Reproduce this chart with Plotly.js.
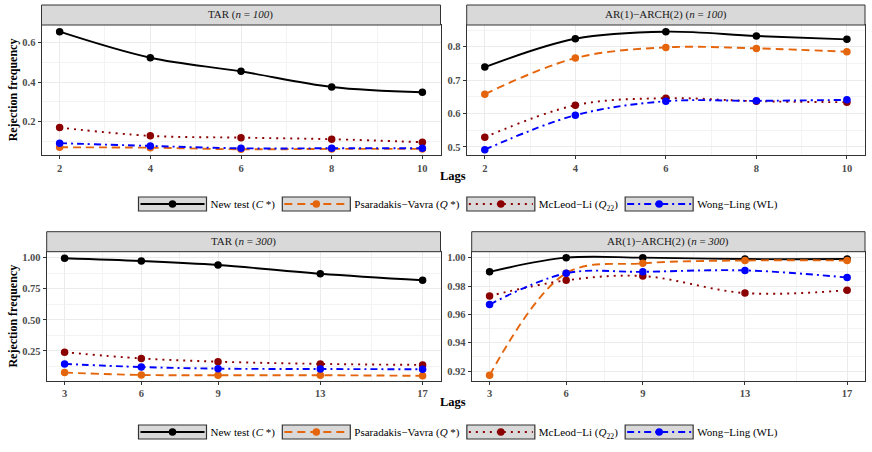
<!DOCTYPE html>
<html>
<head>
<meta charset="utf-8">
<script src="https://cdn.plot.ly/plotly-3.0.1.min.js"></script>
<style>
  html, body { margin: 0; padding: 0; background: #ffffff; }
  #chart { width: 872px; height: 452px; }
</style>
</head>
<body>
<div id="chart"></div>
<script>
// ---------------- data ----------------
const lagsN100 = [2, 4, 6, 8, 10];
const lagsN300 = [3, 6, 9, 13, 17];

const seriesNames = [
  'New test (<i>C</i> *)',
  'Psaradakis\u2212Vavra (<i>Q</i> *)',
  'McLeod\u2212Li (<i>Q</i><sub>22</sub>)',
  'Wong\u2212Ling (WL)'
];

const panelTitles = [
  'TAR (<i>n</i> = <i>100</i>)',
  'AR(1)\u2212ARCH(2) (<i>n</i> = <i>100</i>)',
  'TAR (<i>n</i> = <i>300</i>)',
  'AR(1)\u2212ARCH(2) (<i>n</i> = <i>300</i>)'
];

// TAR, n = 100
const tar100NewTest = [0.656, 0.524, 0.455, 0.376, 0.349];
const tar100PV      = [0.070, 0.068, 0.060, 0.062, 0.062];
const tar100ML      = [0.170, 0.128, 0.119, 0.111, 0.096];
const tar100WL      = [0.091, 0.077, 0.065, 0.065, 0.065];
// AR(1)-ARCH(2), n = 100
const arch100NewTest = [0.739, 0.824, 0.845, 0.832, 0.822];
const arch100PV      = [0.658, 0.766, 0.798, 0.795, 0.785];
const arch100ML      = [0.529, 0.625, 0.646, 0.637, 0.634];
const arch100WL      = [0.492, 0.595, 0.637, 0.638, 0.641];
// TAR, n = 300
const tar300NewTest = [0.995, 0.973, 0.941, 0.871, 0.818];
const tar300PV      = [0.076, 0.057, 0.055, 0.055, 0.050];
const tar300ML      = [0.240, 0.190, 0.164, 0.146, 0.138];
const tar300WL      = [0.146, 0.121, 0.108, 0.105, 0.103];
// AR(1)-ARCH(2), n = 300
const arch300NewTest = [0.990, 1.000, 1.000, 0.999, 0.999];
const arch300PV      = [0.917, 0.989, 0.996, 0.998, 0.998];
const arch300ML      = [0.973, 0.984, 0.987, 0.975, 0.977];
const arch300WL      = [0.967, 0.989, 0.990, 0.991, 0.986];

// tick labels
const xTicksTop = [2, 4, 6, 8, 10];
const xMinorTop = [3, 5, 7, 9];
const xTicksBottom = [3, 6, 9, 13, 17];
const xMinorBottom = [4.5, 7.5, 11, 15];
const yTicksTL = [0.2, 0.4, 0.6];
const yMinorTL = [0.1, 0.3, 0.5];
const yTicksTR = [0.5, 0.6, 0.7, 0.8];
const yMinorTR = [0.55, 0.65, 0.75, 0.85];
const yTicksBL = [0.25, 0.50, 0.75, 1.00];
const yMinorBL = [0.125, 0.375, 0.625, 0.875];
const yTicksBR = [0.92, 0.94, 0.96, 0.98, 1.00];
const yMinorBR = [0.93, 0.95, 0.97, 0.99];

// ---------------- layout helpers ----------------
const W = 872, H = 452;
const fx = px => px / W;
const fy = py => 1 - py / H;
const SERIF = 'Liberation Serif, Times New Roman, serif';

const styles = [
  { color: '#000000', dash: 'solid' },
  { color: '#E4650C', dash: '8px,5px' },
  { color: '#8B0000', dash: '2px,5px' },
  { color: '#0000FF', dash: '7px,4px,2px,4px' }
];

// panel pixel boxes [left, right, top(plot), bottom(plot)]
const panels = [
  { box: [41.5, 440.5, 25, 155],   x: lagsN100, ys: [tar100NewTest, tar100PV, tar100ML, tar100WL],
    xr: [1.6, 10.4], yr: [0.031, 0.690], xt: xTicksTop, xm: xMinorTop, yt: yTicksTL, ym: yMinorTL, yfmt: '', legend: 'legend', show: true },
  { box: [466.7, 865, 25, 155],    x: lagsN100, ys: [arch100NewTest, arch100PV, arch100ML, arch100WL],
    xr: [1.6, 10.4], yr: [0.476, 0.865], xt: xTicksTop, xm: xMinorTop, yt: yTicksTR, ym: yMinorTR, yfmt: '', legend: 'legend', show: false },
  { box: [46.7, 440.5, 251.7, 380.7], x: lagsN300, ys: [tar300NewTest, tar300PV, tar300ML, tar300WL],
    xr: [2.3, 17.7], yr: [0.011, 1.048], xt: xTicksBottom, xm: xMinorBottom, yt: yTicksBL, ym: yMinorBL, yfmt: '.2f', legend: 'legend2', show: true },
  { box: [471.7, 865, 251.7, 380.7], x: lagsN300, ys: [arch300NewTest, arch300PV, arch300ML, arch300WL],
    xr: [2.3, 17.7], yr: [0.9132, 1.0042], xt: xTicksBottom, xm: xMinorBottom, yt: yTicksBR, ym: yMinorBR, yfmt: '.2f', legend: 'legend2', show: false }
];

const tickFont = { family: SERIF, size: 10.5, color: '#4d4d4d', weight: 'bold' };

const traces = [];
const layout = {
  width: W, height: H, autosize: false,
  margin: { l: 0, r: 0, t: 0, b: 0 },
  paper_bgcolor: '#ffffff', plot_bgcolor: '#ffffff',
  showlegend: true,
  hovermode: false,
  font: { family: SERIF, color: '#000000' },
  shapes: [], annotations: []
};

panels.forEach((p, i) => {
  const n = i + 1;
  const xa = 'x' + (n === 1 ? '' : n), ya = 'y' + (n === 1 ? '' : n);
  const xKey = 'xaxis' + (n === 1 ? '' : n), yKey = 'yaxis' + (n === 1 ? '' : n);
  const [l, r, t, b] = p.box;
  layout[xKey] = {
    domain: [fx(l), fx(r)], range: p.xr, anchor: ya,
    tickmode: 'array', tickvals: p.xt, ticktext: p.xt.map(String),
    ticks: 'outside', ticklen: 3, tickwidth: 1, tickcolor: '#333333',
    showline: true, mirror: true, linecolor: '#333333', linewidth: 1,
    showgrid: true, gridcolor: '#ebebeb', gridwidth: 1, zeroline: false,
    minor: { tickmode: 'array', tickvals: p.xm, showgrid: true, gridcolor: '#f3f3f3', gridwidth: 1, ticks: '' },
    tickfont: tickFont, fixedrange: true
  };
  layout[yKey] = {
    domain: [fy(b), fy(t)], range: p.yr, anchor: xa,
    tickmode: 'array', tickvals: p.yt, tickformat: p.yfmt,
    ticks: 'outside', ticklen: 3, tickwidth: 1, tickcolor: '#333333',
    showline: true, mirror: true, linecolor: '#333333', linewidth: 1,
    showgrid: true, gridcolor: '#ebebeb', gridwidth: 1, zeroline: false,
    minor: { tickmode: 'array', tickvals: p.ym, showgrid: true, gridcolor: '#f3f3f3', gridwidth: 1, ticks: '' },
    tickfont: tickFont, fixedrange: true
  };
  if (i === 0 || i === 2) {
    layout[yKey].title = { text: 'Rejection frequency', font: { family: SERIF, size: 12, color: '#000', weight: 'bold' }, standoff: 2 };
  }
  // strip
  layout.shapes.push({
    type: 'rect', xref: 'paper', yref: 'paper',
    x0: fx(l), x1: fx(r), y0: fy(t), y1: fy(t - 20),
    fillcolor: '#d9d9d9', line: { color: '#333333', width: 1 }, layer: 'above'
  });
  layout.annotations.push({
    xref: 'paper', yref: 'paper', x: fx((l + r) / 2), y: fy(t - 10),
    xanchor: 'center', yanchor: 'middle', showarrow: false,
    text: panelTitles[i], font: { family: SERIF, size: 11, color: '#1a1a1a' }
  });
  p.ys.forEach((vals, s) => {
    traces.push({
      type: 'scatter', mode: 'lines+markers',
      x: p.x, y: vals, xaxis: xa, yaxis: ya,
      name: seriesNames[s], legend: p.legend, showlegend: p.show,
      line: { color: styles[s].color, width: 1.9, dash: styles[s].dash, shape: 'spline', smoothing: 1 },
      marker: { color: styles[s].color, size: 7.5 }
    });
  });
});

// "Lags" axis titles
[176, 402].forEach(py => layout.annotations.push({
  xref: 'paper', yref: 'paper', x: fx(453), y: fy(py), xanchor: 'center', yanchor: 'middle',
  showarrow: false, text: '<b>Lags</b>', font: { family: SERIF, size: 12.5, color: '#000' }
}));

const KEY_W = 68;   // key box width in px
const legendCommon = {
  orientation: 'h', xanchor: 'center', yanchor: 'middle', x: fx(460),
  bgcolor: 'rgba(0,0,0,0)', borderwidth: 0, itemwidth: KEY_W - 4,
  font: { family: SERIF, size: 11, color: '#000' }, itemclick: false, itemdoubleclick: false
};
layout.legend = Object.assign({}, legendCommon, { y: fy(204) });
layout.legend2 = Object.assign({}, legendCommon, { y: fy(432) });

function finishLegend() {
  gd.querySelectorAll('.infolayer g.traces').forEach(tr => {
    const ln = tr.querySelector('path.js-line');
    if (ln) ln.setAttribute('d', 'M4,0h' + (KEY_W - 4));
    tr.querySelectorAll('path.scatterpts').forEach(pt => pt.setAttribute('transform', 'translate(' + (2 + KEY_W / 2) + ',0)'));
  });
  // drop empty placeholder text nodes the library leaves behind
  gd.querySelectorAll('text').forEach(t => { if (!t.textContent.trim()) t.remove(); });
}

const gd = document.getElementById('chart');
Plotly.newPlot(gd, traces, layout, { displayModeBar: false, staticPlot: true }).then(() => {
  // grey key boxes behind legend symbols
  const base = gd.getBoundingClientRect();
  const extra = [];
  gd.querySelectorAll('.infolayer g.traces').forEach(tr => {
    const ln = tr.querySelector('path.js-line');
    if (!ln) return;
    const bb = ln.getBoundingClientRect();
    const left = bb.left - base.left - 3;     // item origin + 2
    const cy = (bb.top + bb.bottom) / 2 - base.top;
    extra.push({
      type: 'rect', xref: 'paper', yref: 'paper',
      x0: fx(left), x1: fx(left + KEY_W), y0: fy(cy + 7), y1: fy(cy - 7),
      fillcolor: '#d9d9d9', line: { color: '#333333', width: 1.2 }, layer: 'above'
    });
  });
  return Plotly.relayout(gd, { shapes: layout.shapes.concat(extra) });
}).then(finishLegend);
</script>
</body>
</html>
